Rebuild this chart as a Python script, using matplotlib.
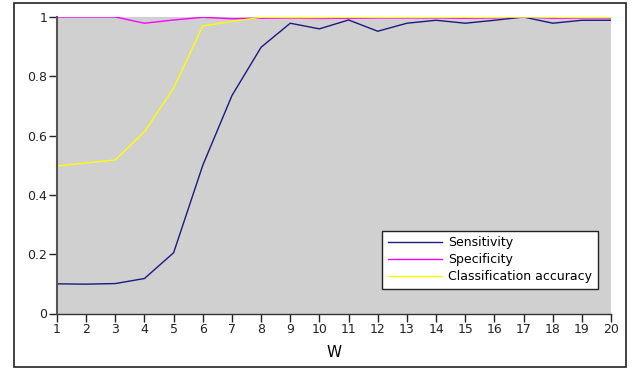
import matplotlib.pyplot as plt
from matplotlib.patches import Rectangle

# --- data ---
w = list(range(1, 21))
sensitivity = [0.100, 0.099, 0.101, 0.118, 0.205, 0.500, 0.735, 0.898, 0.979, 0.960,
               0.990, 0.952, 0.979, 0.989, 0.979, 0.989, 1.000, 0.979, 0.989, 0.989]
specificity = [1.000, 1.000, 1.000, 0.979, 0.990, 0.999, 0.994, 0.996, 0.996, 0.995,
               0.996, 0.997, 0.997, 0.997, 0.996, 0.997, 1.000, 0.996, 0.997, 0.997]
accuracy = [0.497, 0.508, 0.518, 0.613, 0.760, 0.970, 0.985, 0.999, 0.998, 0.998,
            0.999, 0.999, 0.999, 0.999, 0.999, 0.999, 1.000, 0.999, 0.999, 0.999]
y_ticks = [0, 0.2, 0.4, 0.6, 0.8, 1]
y_labels = ["0", "0.2", "0.4", "0.6", "0.8", "1"]

fig = plt.figure(figsize=(6.32, 3.72), dpi=100)
W, H = 632, 372

# outer frame around the whole chart
fig.patches.append(Rectangle((14 / W, 1 - 367 / H), (626 - 14) / W, (367 - 3) / H,
                             transform=fig.transFigure, fill=False,
                             edgecolor="#222222", linewidth=1.2))

ax = fig.add_axes([57 / W, 1 - 313.5 / H, (611 - 57) / W, (313.5 - 17) / H])
ax.set_facecolor("#d0d0d0")

ax.plot(w, sensitivity, color="#1a1a80", linewidth=1.0, label="Sensitivity")
ax.plot(w, specificity, color="#ff00ff", linewidth=1.0, label="Specificity")
ax.plot(w, accuracy, color="#ffff00", linewidth=1.0, label="Classification accuracy")

ax.set_xlim(1, 20)
ax.set_ylim(0, 1)
ax.set_xticks(w)
ax.set_yticks(y_ticks)
ax.set_yticklabels(y_labels)
ax.tick_params(axis="both", labelsize=9, colors="#222222", length=6, width=1, pad=1)
ax.set_xlabel("W", fontsize=11, labelpad=6)

for side in ["top", "right"]:
    ax.spines[side].set_visible(False)
ax.spines["left"].set_color("#555555")
ax.spines["left"].set_linewidth(1.5)
ax.spines["bottom"].set_color("#333333")
ax.spines["bottom"].set_linewidth(1)

leg = ax.legend(loc="lower right", bbox_to_anchor=(598 / W, 1 - 289 / H),
                bbox_transform=fig.transFigure, fontsize=9, frameon=True,
                fancybox=False, edgecolor="#222222", framealpha=1,
                handlelength=4.3, handletextpad=0.55, labelspacing=0.32,
                borderpad=0.45, borderaxespad=0)
leg.get_frame().set_linewidth(1)

fig.savefig("out.png", dpi=100)
